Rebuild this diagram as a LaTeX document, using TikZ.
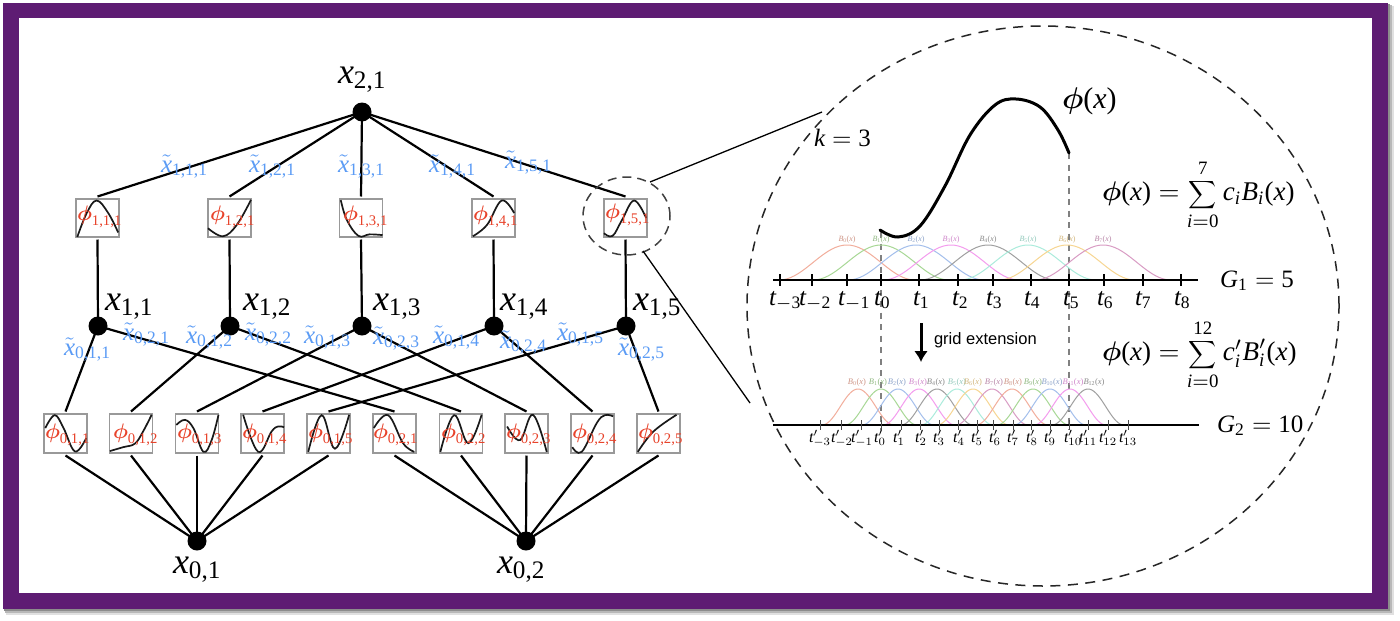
\documentclass[tikz,border=0pt]{standalone}
\usepackage{amsmath}
\usepackage{graphicx}
\usepackage{fontspec}
\usetikzlibrary{shapes.geometric,arrows.meta}
\setmainfont{Liberation Serif}
\newfontfamily\sansf{Liberation Sans}
\definecolor{framepurple}{HTML}{5E1C73}
\definecolor{edgeblue}{HTML}{5A9BF5}
\definecolor{funred}{HTML}{E8432B}
\definecolor{cA}{HTML}{F2AE9C}
\definecolor{cB}{HTML}{A8D896}
\definecolor{cC}{HTML}{A4BFEC}
\definecolor{cD}{HTML}{F49CEE}
\definecolor{cE}{HTML}{A0A0A0}
\definecolor{cF}{HTML}{ABECDC}
\definecolor{cG}{HTML}{F7D692}
\definecolor{cH}{HTML}{D99CC4}
\newcommand{\mi}[1]{\text{\itshape #1}}
\newcommand{\xv}[1]{$\mi{x}_{\text{#1}}$}
\newcommand{\xt}[1]{$\tilde{\mi{x}}_{\text{#1}}$}
\newcommand{\ph}[1]{$\boldsymbol{\phi}_{\text{#1}}$}
\newcommand{\smallsum}{\mathop{\scalebox{.72}{$\displaystyle\sum$}}\limits}
\newcommand{\kbox}[5]{%
  \node[kanbox,minimum height=#4pt] (#1) at ({#2+21.5},{#3+#4/2}) {};
  \begin{scope}[shift={(#2,#3)},x=43pt,y=-#4pt]
    \draw[kancurve] plot[smooth,tension=.65] coordinates {#5};
  \end{scope}}
\newcommand{\bump}[5]{%
  \draw[#5,line width=1pt] plot[domain=-1:1,samples=37] ({#1+#2*\x},{#3-#4*(0.5+0.5*cos(180*\x))});}
\tikzset{
  every node/.style={inner sep=0pt,outer sep=0pt},
  x=1pt,y=-1pt,
  conn/.style={line width=2.2pt,black},
  thinconn/.style={line width=1.3pt,black},
  dot/.style={circle,fill=black,minimum size=19pt},
  kanbox/.style={draw=black!40,line width=1.2pt,minimum width=43pt,outer sep=2.5pt},
  kancurve/.style={line width=1.7pt,black!90},
  vx/.style={anchor=base west,scale=3.6},
  xlab/.style={anchor=base west,scale=2.5,text=edgeblue},
  flab/.style={anchor=base west,scale=2.1,text=funred},
  tlab/.style={anchor=base west,scale=2.5},
  tplab/.style={anchor=base,scale=1.6},
  bl/.style={anchor=base,scale=.8},
  blp/.style={anchor=base,scale=.85},
  eqn/.style={anchor=base west,scale=2.7},
  tick1/.style={line width=1.3pt,black},
  tick2/.style={line width=1pt,black!70},
  guide/.style={black!50,line width=1.2pt,dash pattern=on 6pt off 5.5pt},
}
\begin{document}
\begin{tikzpicture}
\useasboundingbox (0,0) rectangle (1400,621);
% frame
\fill[black!12] (6,6) rectangle (1394,615);
\fill[black!28] (5,5) rectangle (1392,613);
\fill[black!45] (4,4) rectangle (1390,611);
\fill[framepurple] (3,3) rectangle (1388,609);
\fill[white] (19,18) rectangle (1372,593);
% vertices
\node[dot] (x21) at (362,112) {};
\node[dot] (x11) at (98,326) {};
\node[dot] (x12) at (230,326) {};
\node[dot] (x13) at (362,326) {};
\node[dot] (x14) at (494,326) {};
\node[dot] (x15) at (626,326) {};
\node[dot] (x01) at (197,541) {};
\node[dot] (x02) at (526,541) {};
% function boxes
\kbox{p111}{76}{199}{38}{(.03,1) (.25,.37) (.48,.04) (.75,.37) (.98,.88)}
\kbox{p121}{208}{199}{38}{(0,.77) (.35,.98) (.67,.68) (1,.02)}
\kbox{p131}{339.5}{199}{38}{(.03,.03) (.17,.55) (.44,.97) (.7,.93) (1,.95)}
\kbox{p141}{472}{199}{38}{(.02,.98) (.35,.68) (.69,.04) (.98,.37)}
\kbox{p151}{604}{199}{38}{(0,.9) (.2,.97) (.42,.55) (.7,.04) (.98,.5)}
\kbox{p011}{44}{414}{39}{(.03,.36) (.25,.03) (.45,.35) (.72,.96) (.98,.62)}
\kbox{p012}{109.5}{414}{39}{(.01,.95) (.32,.85) (.59,.76) (.78,.45) (.98,.02)}
\kbox{p013}{175.5}{414}{39}{(.02,.28) (.22,.15) (.42,.37) (.65,.97) (.84,.67) (1,.02)}
\kbox{p014}{241}{414}{39}{(.05,.02) (.4,.97) (.71,.45) (.86,.32) (1,.34)}
\kbox{p015}{307}{414}{39}{(.03,.97) (.34,.03) (.65,.89) (.98,.02)}
\kbox{p021}{373}{414}{39}{(.02,.36) (.35,.03) (.7,.75) (.96,.97)}
\kbox{p022}{439.5}{414}{39}{(.02,.97) (.34,.03) (.67,.75) (.98,.02)}
\kbox{p023}{505}{414}{39}{(.05,.32) (.35,.67) (.65,.02) (.97,.97)}
\kbox{p024}{571}{414}{39}{(.03,.85) (.25,.97) (.6,.23) (.79,.03) (.98,.06)}
\kbox{p025}{637}{414}{39}{(.02,.97) (.38,.45) (.92,.02)}
% connectors
\foreach \i in {1,...,5}{
  \draw[conn] (x21.center) -- (p1\i1.north);
  \draw[conn] (p1\i1.south) -- (x1\i.center);
  \draw[conn] (x1\i.center) -- (p01\i.north);
  \draw[conn] (x1\i.center) -- (p02\i.north);
  \draw[conn] (p01\i.south) -- (x01.center);
  \draw[conn] (p02\i.south) -- (x02.center);
}
% vertex labels
\node[vx] (lx21) at (338,83) {\xv{2,1}};
\node[vx] (lx11) at (105,310) {\xv{1,1}};
\node[vx] (lx12) at (243,310) {\xv{1,2}};
\node[vx] (lx13) at (373,310) {\xv{1,3}};
\node[vx] (lx14) at (500,310) {\xv{1,4}};
\node[vx] (lx15) at (633,310) {\xv{1,5}};
\node[vx] (lx01) at (173,573) {\xv{0,1}};
\node[vx] (lx02) at (497,573) {\xv{0,2}};
% edge labels
\node[xlab] (e111) at (161,172) {\xt{1,1,1}};
\node[xlab] (e121) at (249,172) {\xt{1,2,1}};
\node[xlab] (e131) at (338,172) {\xt{1,3,1}};
\node[xlab] (e141) at (429,172) {\xt{1,4,1}};
\node[xlab] (e151) at (505,168) {\xt{1,5,1}};
\node[xlab] (e011) at (64,355) {\xt{0,1,1}};
\node[xlab] (e021) at (123,340) {\xt{0,2,1}};
\node[xlab] (e012) at (186,343) {\xt{0,1,2}};
\node[xlab] (e022) at (245,340) {\xt{0,2,2}};
\node[xlab] (e013) at (304,343) {\xt{0,1,3}};
\node[xlab] (e023) at (373,344) {\xt{0,2,3}};
\node[xlab] (e014) at (433,343) {\xt{0,1,4}};
\node[xlab] (e024) at (500,348) {\xt{0,2,4}};
\node[xlab] (e015) at (557,340) {\xt{0,1,5}};
\node[xlab] (e025) at (618,355) {\xt{0,2,5}};
% function labels
\node[flab] (f111) at (77,220) {\ph{1,1,1}};
\node[flab] (f121) at (210,220) {\ph{1,2,1}};
\node[flab] (f131) at (343,220) {\ph{1,3,1}};
\node[flab] (f141) at (473,220) {\ph{1,4,1}};
\node[flab] (f151) at (605,218) {\ph{1,5,1}};
\node[flab] (f011) at (45,438) {\ph{0,1,1}};
\node[flab] (f012) at (113,438) {\ph{0,1,2}};
\node[flab] (f013) at (177,438) {\ph{0,1,3}};
\node[flab] (f014) at (242,438) {\ph{0,1,4}};
\node[flab] (f015) at (308,438) {\ph{0,1,5}};
\node[flab] (f021) at (373,438) {\ph{0,2,1}};
\node[flab] (f022) at (441,438) {\ph{0,2,2}};
\node[flab] (f023) at (506,438) {\ph{0,2,3}};
\node[flab] (f024) at (572,438) {\ph{0,2,4}};
\node[flab] (f025) at (638,438) {\ph{0,2,5}};
% magnifier
\node[draw=black!75,line width=1.5pt,dash pattern=on 9pt off 6pt,ellipse,minimum width=87pt,minimum height=78pt] (lens) at (626.5,216) {};
\node[draw=black!85,line width=1.5pt,dash pattern=on 10pt off 7.5pt,ellipse,minimum width=592pt,minimum height=560pt] (big) at (1043,306) {};
\coordinate (lensA) at (650,182);
\coordinate (lensB) at (643,251);
\coordinate (bigA) at (822,112);
\coordinate (bigB) at (750,403);
\draw[thinconn] (lensA) -- (bigA);
\draw[thinconn] (lensB) -- (bigB);
% guides
\coordinate (g0t) at (881,232);
\coordinate (g0b) at (881,430);
\coordinate (g5t) at (1069,153);
\coordinate (g5b) at (1069,430);
\draw[guide] (g0t) -- (g0b);
\draw[guide] (g5t) -- (g5b);
% phi curve
\draw[line width=3pt,line cap=round] plot[smooth,tension=.6] coordinates {(880,230) (898,237) (920,226) (945,186) (970,135) (995,105) (1016,99) (1040,107) (1058,130) (1069,153)};
% first basis
\foreach \c/\col in {847/cA,881/cB,916/cC,951/cD,988/cE,1028/cF,1067/cG,1103/cH}{
  \bump{\c}{68}{280}{35}{\col}
}
\foreach \c/\col/\n in {847/cA/0,881/cB/1,916/cC/2,951/cD/3,988/cE/4,1028/cF/5,1067/cG/6,1103/cH/7}{
  \node[bl,text=\col!85!black] (bl\n) at (\c,241) {$\mi{B}_{\text{\n}}\text{(}\mi{x}\text{)}$};
}
\coordinate (a1s) at (773,280);
\coordinate (a1e) at (1198,280);
\draw[line width=2.4pt] (a1s) -- (a1e);
\foreach \t in {780,812,847,881,919,958,993,1031,1069,1104,1143,1181}{
  \draw[tick1] (\t,274) -- (\t,286);
}
\node[tlab] (t1) at (769,305) {$\mi{t}_{-\text{3}}$};
\node[tlab] (t2) at (799,305) {$\mi{t}_{-\text{2}}$};
\node[tlab] (t3) at (838,305) {$\mi{t}_{-\text{1}}$};
\node[tlab] (t4) at (874,305) {$\mi{t}_{\text{0}}$};
\node[tlab] (t5) at (913,305) {$\mi{t}_{\text{1}}$};
\node[tlab] (t6) at (952,305) {$\mi{t}_{\text{2}}$};
\node[tlab] (t7) at (986,305) {$\mi{t}_{\text{3}}$};
\node[tlab] (t8) at (1024,305) {$\mi{t}_{\text{4}}$};
\node[tlab] (t9) at (1063,305) {$\mi{t}_{\text{5}}$};
\node[tlab] (t10) at (1097,305) {$\mi{t}_{\text{6}}$};
\node[tlab] (t11) at (1135,305) {$\mi{t}_{\text{7}}$};
\node[tlab] (t12) at (1174,305) {$\mi{t}_{\text{8}}$};
% second basis
\foreach \c/\col in {858/cA,881/cB,898/cC,919/cD,937/cE,957/cF,973/cG,992/cH,1012/cA,1033/cB,1050/cC,1070/cD,1088/cE}{
  \bump{\c}{36}{425}{36}{\col}
}
\foreach \c/\col/\n in {857/cA/0,878/cB/1,897/cC/2,918/cD/3,936/cE/4,957/cF/5,973/cG/6,994/cH/7,1013/cA/8,1033/cB/9,1052/cC/10,1073/cD/11,1094/cE/12}{
  \node[blp,text=\col!85!black] (bp\n) at (\c,384) {$\mi{B}_{\text{\n}}\text{(}\mi{x}\text{)}$};
}
\coordinate (a2s) at (773,425);
\coordinate (a2e) at (1199,425);
\draw[line width=2.4pt] (a2s) -- (a2e);
\foreach \t in {820,841,861,881,901,920,939,958,977,993,1013,1031,1050,1069,1088,1108,1128}{
  \draw[tick2] (\t,420) -- (\t,430);
}
\foreach \t/\n in {820/-3,842/-2,862/-1,880/0,899/1,921/2,939/3,959/4,977/5,995/6,1013/7,1032/8,1050/9,1073/10,1088/11,1108/12,1128/13}{
  \node[tplab] (tp\n) at (\t,442) {$\mi{t}'_{\n}$};
}
% grid extension
\coordinate (ar1) at (921,323);
\coordinate (ar2) at (921,362);
\draw[line width=3pt,-{Latex[length=11pt,width=14pt]}] (ar1) -- (ar2);
\node[anchor=base west,scale=1.65] (ge) at (934,344) {\sansf grid extension};
% formulas
\node[anchor=base west,scale=2.5] (k) at (814,146) {$\mi{k}=\text{3}$};
\node[anchor=base west,scale=3] (phx) at (1062,108) {$\boldsymbol{\phi}\text{(}\mi{x}\text{)}$};
\node[eqn] (eq1) at (1102,200) {$\boldsymbol{\phi}\text{(}\mi{x}\text{)}=\smallsum_{\mi{i}=\text{0}}^{\text{7}}\mi{c}_{\mi{i}}\mi{B}_{\mi{i}}\text{(}\mi{x}\text{)}$};
\node[eqn] (eq2) at (1102,360) {$\boldsymbol{\phi}\text{(}\mi{x}\text{)}=\smallsum_{\mi{i}=\text{0}}^{\text{12}}\mi{c}'_{\mi{i}}\mi{B}'_{\mi{i}}\text{(}\mi{x}\text{)}$};
\node[anchor=base west,scale=2.5] (g1) at (1220,287) {$\mi{G}_{\text{1}}=\text{5}$};
\node[anchor=base west,scale=2.5] (g2) at (1217,432) {$\mi{G}_{\text{2}}=\text{10}$};
\end{tikzpicture}
\end{document}
